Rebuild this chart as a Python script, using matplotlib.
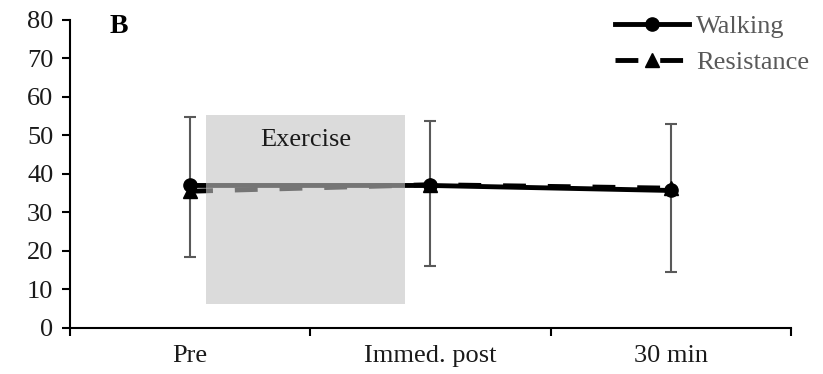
#!/usr/bin/env python3

import numpy as np
import matplotlib.pyplot as plt
from matplotlib.patches import Rectangle

plt.rcParams['font.family'] = ['Liberation Serif', 'DejaVu Serif']

categories = ['Pre', 'Immed. post', '30 min']
walking = [37.0, 37.0, 35.7]
resistance = [35.5, 37.2, 36.3]
err_upper = [54.9, 53.8, 53.0]
err_lower = [18.4, 16.1, 14.6]


def main():
    fig = plt.figure(figsize=(8.23, 3.74), dpi=100)
    ax = fig.add_axes([0.085, 0.123, 0.876, 0.824])

    x = np.arange(len(categories)) + 0.5
    walk = np.array(walking)
    yerr = [walk - np.array(err_lower), np.array(err_upper) - walk]

    ax.errorbar(x, walk, yerr=yerr, fmt='none', ecolor='#595959',
                elinewidth=1.5, capsize=4.5, capthick=1.5, zorder=2)
    ax.plot(x, resistance, c='k', lw=3.5, ls=(0, (4.7, 4.5)), marker='^',
            ms=9.5, label='Resistance', zorder=3)
    ax.plot(x, walking, c='k', lw=3.5, marker='o', ms=9.5,
            label='Walking', zorder=4)

    # shaded exercise period drawn over the lines
    ax.add_patch(Rectangle((0.565, 6.2), 0.83, 49.1, facecolor='#c4c4c4',
                           alpha=0.6, edgecolor='none', zorder=5))
    ax.text(0.98, 48.7, 'Exercise', ha='center', va='center',
            fontsize=19, color='#1a1a1a', zorder=6)
    ax.text(0.165, 78.3, 'B', fontsize=20, fontweight='bold',
            ha='left', va='center')

    ax.set_xlim(0, 3)
    ax.set_ylim(0, 80)
    ax.set_yticks(np.arange(0, 81, 10))
    ax.set_xticks([0, 1, 2, 3])
    ax.set_xticklabels([])
    ax.set_xticks(x, minor=True)
    ax.set_xticklabels(categories, minor=True)
    ax.tick_params(axis='x', which='minor', length=0, pad=12,
                   labelsize=19, labelcolor='#1a1a1a')
    ax.tick_params(axis='x', which='major', length=6, width=1.5)
    ax.tick_params(axis='y', length=6, width=1.5, labelsize=19,
                   labelcolor='#1a1a1a', pad=6)

    for s in ['top', 'right']:
        ax.spines[s].set_visible(False)
    for s in ['left', 'bottom']:
        ax.spines[s].set_linewidth(1.5)

    h, l = ax.get_legend_handles_labels()
    leg = ax.legend(h[::-1], l[::-1], loc='upper right',
                    bbox_to_anchor=(1.058, 1.095), frameon=False,
                    fontsize=19, handlelength=2.8, handletextpad=0.25,
                    labelspacing=0.5)
    for t in leg.get_texts():
        t.set_color('#595959')

    fig.savefig('out.png', dpi=100)


if __name__ == '__main__':
    main()
